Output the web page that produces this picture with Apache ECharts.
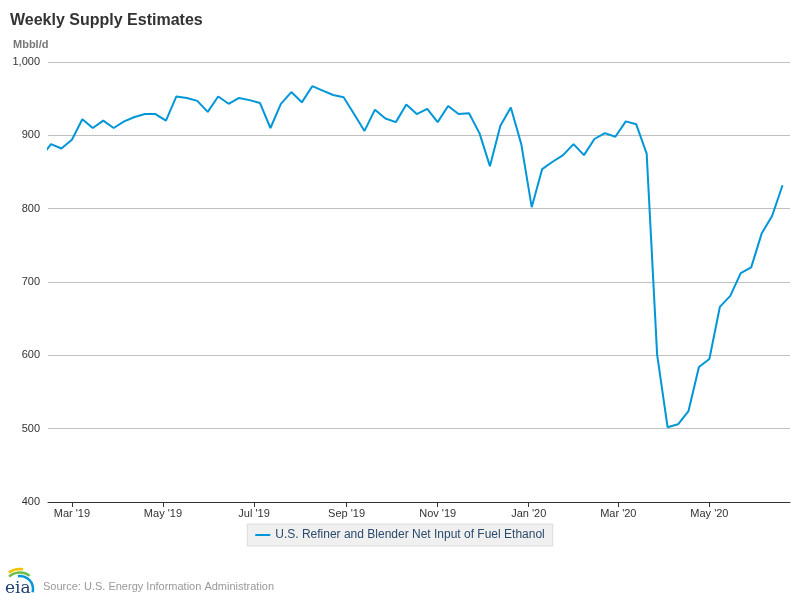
<!DOCTYPE html>
<html>
<head>
<meta charset="utf-8">
<title>Weekly Supply Estimates</title>
<script src="https://cdn.jsdelivr.net/npm/echarts@6/dist/echarts.min.js"></script>
<style>
    html, body { margin: 0; padding: 0; background: #fff; }
    #chart { width: 800px; height: 600px; }
</style>
</head>
<body>
<div id="chart"></div>
<script>
// first week of the series (weekly, Fridays)
var startDate = '2019-02-08';

// Mbbl/d, one value per week
var ethanolInput = [
    869, 888, 882, 894, 922, 910, 920, 910, 919, 925,
    929, 929, 920, 953, 951, 947, 932, 953, 943, 951,
    948, 944, 910, 943, 959, 945, 967, 961, 955, 952,
    929, 906, 935, 923, 918, 942, 929, 936, 918, 940,
    929, 930, 903, 858, 913, 938, 888, 802, 854, 864,
    873, 888, 873, 895, 903, 898, 919, 915, 875, 601,
    502, 506, 524, 584, 595, 666, 681, 712, 720, 766,
    790, 832
];

var tickDates = ['2019-03-01', '2019-05-01', '2019-07-01', '2019-09-01',
                 '2019-11-01', '2020-01-01', '2020-03-01', '2020-05-01'];
var tickLabels = ["Mar '19", "May '19", "Jul '19", "Sep '19",
                  "Nov '19", "Jan '20", "Mar '20", "May '20"];

var seriesName = 'U.S. Refiner and Blender Net Input of Fuel Ethanol';

var WEEK = 7 * 24 * 3600 * 1000;
var t0 = Date.parse(startDate);
var lineData = ethanolInput.map(function (v, i) {
    return [t0 + i * WEEK, v];
});
var tickValues = tickDates.map(function (d) { return Date.parse(d); });

var FONT = '"Liberation Sans", Arial, sans-serif';

var myChart = echarts.init(document.getElementById('chart'));
var option = {
    animation: false,
    backgroundColor: '#fff',
    textStyle: { fontFamily: FONT },
    title: {
        text: 'Weekly Supply Estimates',
        left: 5,
        top: 8,
        textStyle: { fontFamily: FONT, fontSize: 16, fontWeight: 'bold', color: '#333' }
    },
    legend: {
        data: [seriesName],
        left: 'center',
        top: 524,
        backgroundColor: '#f0f0f0',
        borderColor: '#dcdcdc',
        borderWidth: 1,
        borderRadius: 0,
        padding: [5, 8],
        icon: 'rect',
        itemWidth: 15,
        itemHeight: 2,
        itemGap: 5,
        textStyle: { fontFamily: FONT, fontSize: 12, color: '#2c4a6b' }
    },
    grid: {
        left: 48,
        right: 10,
        top: 62,
        bottom: 98,
        containLabel: false
    },
    // dates as milliseconds on a value axis, labelled at month starts
    xAxis: {
        type: 'value',
        min: Date.parse('2019-02-13'),
        max: Date.parse('2020-06-24'),
        axisLine: { show: true, onZero: false, lineStyle: { color: '#333', width: 1 } },
        axisTick: { show: true, customValues: tickValues, length: 5, lineStyle: { color: '#333' } },
        axisLabel: {
            customValues: tickValues,
            color: '#333',
            fontSize: 11,
            margin: 6,
            showMinLabel: true,
            showMaxLabel: true,
            formatter: function (val) {
                var k = tickValues.indexOf(val);
                return k >= 0 ? tickLabels[k] : '';
            }
        },
        splitLine: { show: false }
    },
    yAxis: {
        type: 'value',
        name: 'Mbbl/d',
        nameLocation: 'end',
        nameGap: 12,
        nameTextStyle: { color: '#777', fontSize: 11, fontWeight: 'bold', align: 'left', padding: [0, 0, 0, -35] },
        min: 400,
        max: 1000,
        interval: 100,
        axisLine: { show: false },
        axisTick: { show: false },
        axisLabel: {
            color: '#333',
            fontSize: 11,
            margin: 8,
            formatter: function (v) { return v.toLocaleString('en-US'); }
        },
        splitLine: { lineStyle: { color: '#c0c0c0', width: 1 } }
    },
    series: [
        {
            name: seriesName,
            type: 'line',
            data: lineData,
            showSymbol: false,
            symbol: 'none',
            clip: true,
            color: '#0096d7',
            lineStyle: { color: '#0096d7', width: 2 }
        }
    ],
    graphic: [
        // eia logo
        { type: 'arc', shape: { cx: 20, cy: 589, r: 20, startAngle: Math.PI * 1.31, endAngle: Math.PI * 1.55 },
          style: { stroke: '#f2c500', lineWidth: 2.5, fill: null } },
        { type: 'arc', shape: { cx: 20, cy: 589, r: 16.5, startAngle: Math.PI * 1.27, endAngle: Math.PI * 1.7 },
          style: { stroke: '#6cbf4a', lineWidth: 2.5, fill: null } },
        { type: 'arc', shape: { cx: 20, cy: 589, r: 13, startAngle: Math.PI * 1.45, endAngle: Math.PI * 2.08 },
          style: { stroke: '#0096d7', lineWidth: 2.5, fill: null } },
        { type: 'text', left: 5, top: 580,
          style: { text: 'eia', font: '17px "DejaVu Serif", serif', fill: '#1f3d6d' } },
        { type: 'text', left: 43, top: 581,
          style: { text: 'Source: U.S. Energy Information Administration', font: '11px ' + FONT, fill: '#999' } }
    ]
};

myChart.setOption(option);
</script>
</body>
</html>
